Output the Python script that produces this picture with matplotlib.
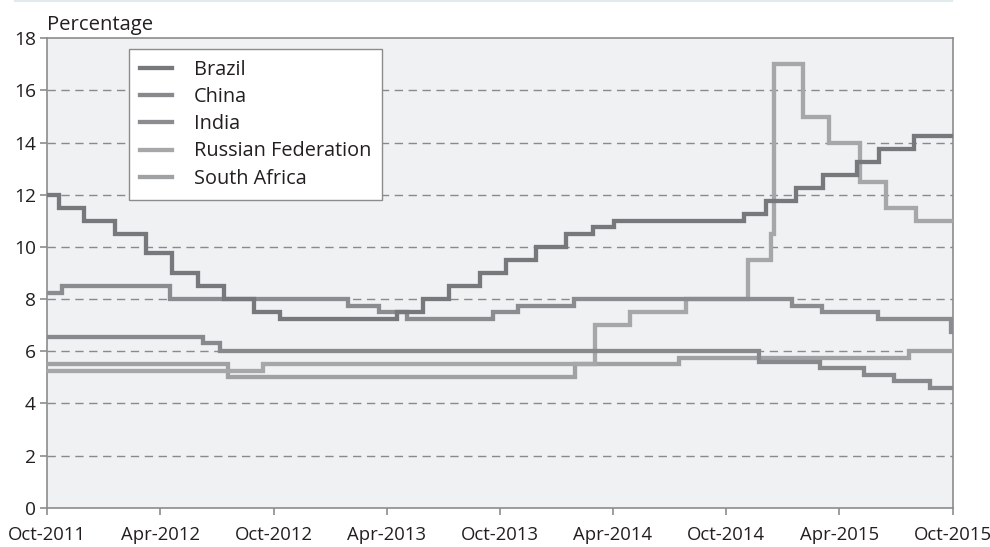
import matplotlib
matplotlib.use("Agg")
import matplotlib.pyplot as plt
import matplotlib.dates as mdates
from matplotlib.lines import Line2D
import pandas as pd

plt.rcParams['font.family'] = ['Open Sans', 'DejaVu Sans']

end_date = "2015-10-01"

brazil_dates = ["2011-10-01", "2011-10-20", "2011-11-30", "2012-01-19", "2012-03-08", "2012-04-19",
                "2012-05-31", "2012-07-12", "2012-08-30", "2012-10-11", "2013-04-18", "2013-05-30",
                "2013-07-11", "2013-08-29", "2013-10-10", "2013-11-28", "2014-01-16", "2014-02-27",
                "2014-04-03", "2014-10-30", "2014-12-04", "2015-01-22", "2015-03-05", "2015-04-30",
                "2015-06-04", "2015-07-30"]
brazil_vals = [12.0, 11.5, 11.0, 10.5, 9.75, 9.0, 8.5, 8.0, 7.5, 7.25, 7.5, 8.0,
               8.5, 9.0, 9.5, 10.0, 10.5, 10.75, 11.0, 11.25, 11.75, 12.25, 12.75, 13.25,
               13.75, 14.25]

china_dates = ["2011-10-01", "2012-06-08", "2012-07-06", "2014-11-22", "2015-03-01",
               "2015-05-11", "2015-06-28", "2015-08-26"]
china_vals = [6.56, 6.31, 6.0, 5.6, 5.35, 5.1, 4.85, 4.6]

india_dates = ["2011-10-01", "2011-10-25", "2012-04-17", "2013-01-29", "2013-03-19", "2013-05-03",
               "2013-09-20", "2013-10-29", "2014-01-28", "2015-01-15", "2015-03-04", "2015-06-02",
               "2015-09-29"]
india_vals = [8.25, 8.5, 8.0, 7.75, 7.5, 7.25, 7.5, 7.75, 8.0, 7.75, 7.5, 7.25, 6.75]

russia_dates = ["2011-10-01", "2012-09-14", "2014-03-03", "2014-04-28", "2014-07-28", "2014-11-05",
                "2014-12-12", "2014-12-16", "2015-02-02", "2015-03-16", "2015-05-05", "2015-06-16",
                "2015-08-03"]
russia_vals = [5.25, 5.5, 7.0, 7.5, 8.0, 9.5, 10.5, 17.0, 15.0, 14.0, 12.5, 11.5, 11.0]

safrica_dates = ["2011-10-01", "2012-07-19", "2014-01-30", "2014-07-17", "2015-07-23"]
safrica_vals = [5.5, 5.0, 5.5, 5.75, 6.0]

series_names = ["Brazil", "China", "India", "Russian Federation", "South Africa"]
series_colors = ["#77787b", "#88898c", "#8b8c8f", "#a6a7a9", "#a0a1a3"]

tick_dates = ["2011-10-01", "2012-04-01", "2012-10-01", "2013-04-01", "2013-10-01",
              "2014-04-01", "2014-10-01", "2015-04-01", "2015-10-01"]
y_ticks = [0, 2, 4, 6, 8, 10, 12, 14, 16, 18]

fig = plt.figure(figsize=(9.9, 5.47), dpi=100)
ax = fig.add_axes([47/990, 1-507.7/547, (952.7-47)/990, (507.7-38.3)/547])
ax.set_facecolor("#f0f1f3")

all_series = [(brazil_dates, brazil_vals), (china_dates, china_vals), (india_dates, india_vals),
              (russia_dates, russia_vals), (safrica_dates, safrica_vals)]

# draw order: lighter first so darker lines on top
order = [4, 3, 2, 1, 0]
handles = {}
for i in order:
    d, v = all_series[i]
    x = pd.to_datetime(list(d) + [end_date])
    y = list(v) + [v[-1]]
    ln, = ax.plot(x, y, drawstyle="steps-post", color=series_colors[i], lw=3.1,
                  solid_joinstyle="miter", label=series_names[i], zorder=3)
    handles[i] = ln

ax.set_xlim(pd.Timestamp("2011-10-01"), pd.Timestamp(end_date))
ax.set_ylim(0, 18)
ax.set_yticks(y_ticks)
ax.set_xticks(pd.to_datetime(tick_dates))
ax.xaxis.set_major_formatter(mdates.DateFormatter("%b-%Y"))

for yv in y_ticks[1:-1]:
    ax.axhline(yv, color="#8a8a8a", lw=1.0, ls=(0, (6, 4)), zorder=1)

for s in ax.spines.values():
    s.set_color("#8c8c8e")
    s.set_linewidth(1.2)

ax.tick_params(axis="both", colors="#8c8c8e", length=5, width=1.2, labelsize=13.8,
               labelcolor="#231f20")
ax.tick_params(axis="x", pad=8, labelsize=13.3)
ax.tick_params(axis="y", pad=3)

ax.text(0, 1.006, "Percentage", transform=ax.transAxes, ha="left", va="bottom",
        fontsize=14.6, color="#231f20")

leg = ax.legend([handles[i] for i in range(5)], series_names, loc="upper left",
                bbox_to_anchor=(0.0905, 0.977), borderaxespad=0, fancybox=False,
                framealpha=1, facecolor="white", edgecolor="#8c8c8e", fontsize=14.3,
                handlelength=1.6, handletextpad=1.1, labelspacing=0.36,
                borderpad=0.55)
leg.get_frame().set_linewidth(1.0)
for t in leg.get_texts():
    t.set_color("#231f20")

fig.add_artist(Line2D([15/990, 952/990], [1-1/547, 1-1/547], transform=fig.transFigure,
                      color="#e3eaee", lw=1.5))

fig.savefig("out.png", dpi=100)
